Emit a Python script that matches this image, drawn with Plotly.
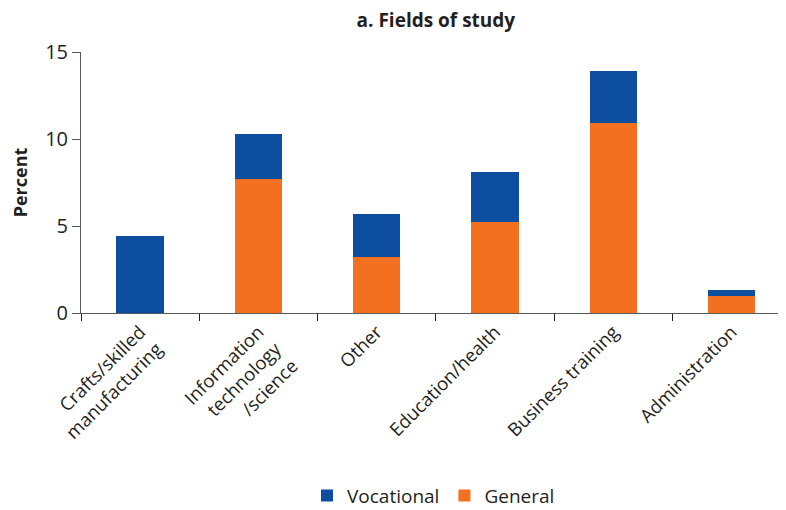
import plotly.graph_objects as go

# data
categories = [
    "Crafts/skilled<br>manufacturing",
    "Information<br>technology<br>/science",
    "Other",
    "Education/health",
    "Business training",
    "Administration",
]
general = [0, 7.7, 3.2, 5.25, 10.9, 0.95]
vocational = [4.4, 2.6, 2.5, 2.85, 3.0, 0.4]

BLUE = "#0d4ea1"
ORANGE = "#f37021"
TEXT = "#231f20"
FONT = "Open Sans"

fig = go.Figure()

# general at the bottom, vocational stacked on top
fig.add_trace(go.Bar(
    x=categories, y=general, name="General",
    marker=dict(color=ORANGE, line=dict(width=0)),
))
fig.add_trace(go.Bar(
    x=categories, y=vocational, name="Vocational",
    marker=dict(color=BLUE, line=dict(width=0)),
))

# the page body has an 8px margin, so everything is shifted by 8px
fig.update_layout(
    width=778, height=510,
    barmode="stack",
    bargap=0.6,
    plot_bgcolor="white",
    paper_bgcolor="white",
    font=dict(family=FONT, size=18, color=TEXT),
    margin=dict(l=73, r=0, t=44, b=205),
    title=dict(
        text="<b>a. Fields of study</b>",
        x=0.55, xanchor="center",
        y=0.9765, yanchor="middle",
        font=dict(family=FONT, size=19, color=TEXT),
    ),
    legend=dict(
        orientation="h",
        traceorder="reversed",
        x=0.5, xanchor="center",
        y=-0.7, yanchor="middle",
        font=dict(family=FONT, size=19, color=TEXT),
    ),
    showlegend=True,
)

fig.update_xaxes(
    range=[-0.5, 5.46],
    automargin=False,
    showline=True, linecolor="#58595b", linewidth=1,
    ticks="outside", tickson="boundaries", ticklen=7,
    tickcolor="#231f20",
    tickangle=-45,
    showgrid=False, zeroline=False,
    tickfont=dict(family=FONT, size=18.5, color=TEXT),
)
fig.update_yaxes(
    range=[0, 15],
    tickvals=[0, 5, 10, 15],
    automargin=False,
    showline=True, linecolor="#58595b", linewidth=1,
    ticks="outside", ticklen=8, tickcolor="#58595b",
    showgrid=False, zeroline=False,
    tickfont=dict(family=FONT, size=20, color=TEXT),
    title=dict(text="<b>Percent</b>", font=dict(family=FONT, size=18, color=TEXT), standoff=16),
)

fig.write_html("out.html")
